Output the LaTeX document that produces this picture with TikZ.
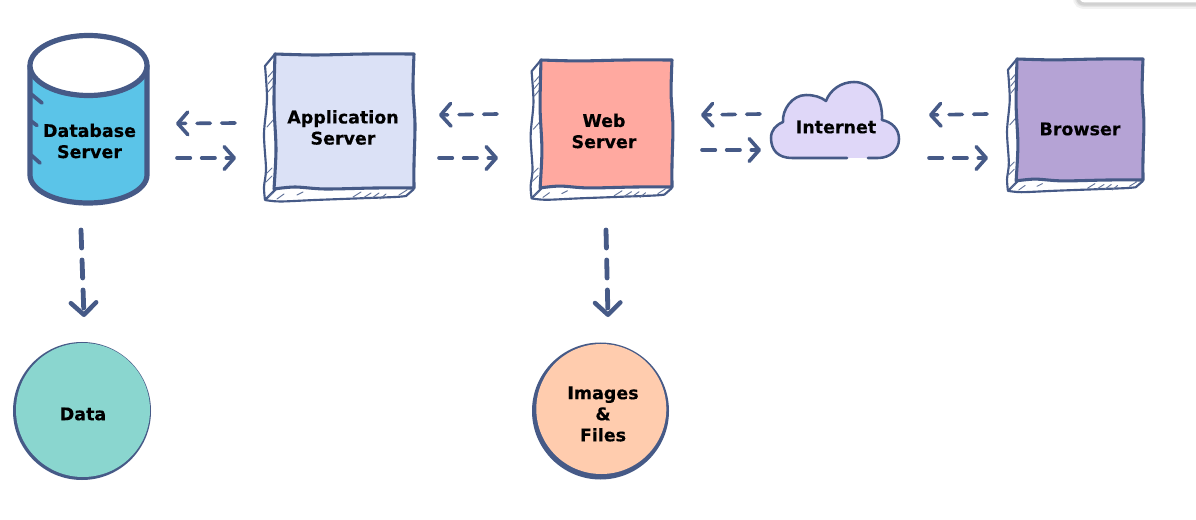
\documentclass[tikz,border=0pt]{standalone}
\usepackage{fontspec}
\setmainfont[BoldFeatures={FakeBold=0.25}]{DejaVu Sans}
\usetikzlibrary{arrows.meta}
\definecolor{ink}{HTML}{465A87}
\definecolor{dbfill}{HTML}{5BC4E8}
\definecolor{appfill}{HTML}{DBE1F6}
\definecolor{webfill}{HTML}{FFA9A0}
\definecolor{netfill}{HTML}{DFD7F8}
\definecolor{brfill}{HTML}{B5A3D5}
\definecolor{datafill}{HTML}{8AD6CF}
\definecolor{imgfill}{HTML}{FFCCAE}
\tikzset{
  x=0.75pt,y=-0.75pt,
  label text/.style={font=\bfseries\fontsize{13.1}{15.8}\selectfont,align=center,text=black,inner sep=0pt},
  flow/.style={draw=ink,line width=2.7pt,line cap=round,dash pattern=on 10pt off 8.5pt,
    -{Straight Barb[length=7.5pt,width=17pt,round,line width=2.7pt]}},
  flowdown/.style={draw=ink,line width=3.6pt,line cap=round,dash pattern=on 13.5pt off 9pt,
    -{Straight Barb[length=9pt,width=19pt,round,line width=3.4pt]}},
  edge line/.style={draw=ink,line width=2.3pt,line join=round},
  thin edge/.style={draw=ink,line width=1.6pt,line join=round},
  hatch/.style={draw=ink!85,line width=0.7pt,line cap=round},
}
\newcommand{\sketchbox}[6]{%
 \begin{scope}[shift={(#1,#2)},xscale=#3/139,yscale=#4/134]
  \path[fill=white] (0,0) -- (-10,12) -- (-10,145) -- (135,143) -- (139,134) -- cycle;
  \draw[thin edge] plot[smooth,tension=.5] coordinates {(0,0) (-5,6) (-10,12)}
    -- plot[smooth,tension=.5] coordinates {(-10,12) (-8,45) (-11,80) (-9,115) (-11,133) (-10,146)}
    -- plot[smooth,tension=.5] coordinates {(-10,146) (5,147.5) (40,146) (80,144.5) (120,143) (131,142)}
    -- (139,135);
  \draw[thin edge] (-10,146) -- (1,135);
  \foreach \a/\b/\c/\d in {-7/23/-1/16, -7/30/-2/24, -7/38/-2/32, -8/73/-1/65, -9/120/-3/114, -9/128/-3/122,
      -7/143/-2/139, 2/145/9/140, 22/141/28/138, 78/143/86/138, 88/144/96/139, 97/144/104/139, 105/145/111/140, 124/141/132/136}
     {\draw[hatch] (\a,\b) -- (\c,\d);}
  \path[fill=#5] plot[smooth,tension=.5] coordinates {(0,0) (40,1) (90,0) (139,0)}
    -- plot[smooth,tension=.5] coordinates {(139,0) (138,35) (140,70) (139,110) (139,134)}
    -- plot[smooth,tension=.5] coordinates {(139,134) (100,134) (50,135) (20,133) (-1,135)}
    -- plot[smooth,tension=.5] coordinates {(-1,135) (1,95) (-1,50) (0,0)} -- cycle;
  \draw[edge line] plot[smooth,tension=.5] coordinates {(0,0) (40,1) (90,0) (139,0)}
    -- plot[smooth,tension=.5] coordinates {(139,0) (138,35) (140,70) (139,110) (139,134)}
    -- plot[smooth,tension=.5] coordinates {(139,134) (100,134) (50,135) (20,133) (-1,135)}
    -- plot[smooth,tension=.5] coordinates {(-1,135) (1,95) (-1,50) (0,0)} -- cycle;
 \end{scope}}
\begin{document}
\begin{tikzpicture}
\useasboundingbox (0,0) rectangle (1196,520);
\fill[white] (0,0) rectangle (1196,520);
% window corner at top right
\foreach \o/\w in {0.05/9,0.06/6,0.08/4}{\draw[black,opacity=\o,line width=\w pt] (1079,-3) .. controls (1079,2) and (1081,3) .. (1086,3) -- (1200,3);}
\draw[black!18,line width=0.8pt] (1078,-3) .. controls (1078,1) and (1080,3) .. (1085,3) -- (1200,3);
\fill[white] (1079.5,-3) .. controls (1079.5,0) and (1081,2.4) .. (1085,2.4) -- (1200,2.4) -- (1200,-3) -- cycle;

% database cylinder
\path[fill=dbfill] (29,66) -- (29,175) .. controls (29,190) and (55,203) .. (88,203) .. controls (122,203) and (147,190) .. (147,175) -- (147,66) -- cycle;
\draw[draw=ink,line width=3.9pt,line cap=round] (30,66) -- (30,175) .. controls (30,190) and (55,203) .. (88,203) .. controls (122,203) and (147,190) .. (147,175) -- (147,66);
\draw[fill=white,draw=ink,line width=3.9pt] (88.5,65.5) ellipse [x radius=58.5,y radius=30];
\draw[draw=ink,line width=2.8pt,line cap=round] (31,94) -- (42,103);
\draw[draw=ink,line width=2.8pt,line cap=round] (31,121) -- (37,125.5);
\draw[draw=ink,line width=2.8pt,line cap=round] (31,155) -- (40,163);
\node[label text] (db) at (89.5,141) {Database\\Server};

% sketched boxes
\sketchbox{275}{54}{139}{134}{appfill}{}
\sketchbox{541}{60}{131}{127}{webfill}{}
\sketchbox{1017}{59}{126}{121}{brfill}{}
\node[label text] (app) at (343,127.5) {Application\\Server};
\node[label text] (web) at (604,131) {Web\\Server};
\node[label text] (br) at (1080,129) {Browser};

% cloud
\path[fill=netfill]
 (792,158) .. controls (778,158) and (771,150) .. (771,138)
 .. controls (771,130) and (776,125) .. (783,122)
 .. controls (782,110) and (792,95) .. (806,95)
 .. controls (814,95) and (821,97) .. (826,101)
 .. controls (830,90) and (841,82) .. (854,82)
 .. controls (870,82) and (883,96) .. (882,120)
 .. controls (892,122) and (899,129) .. (899,139)
 .. controls (899,150) and (890,158) .. (878,158) -- cycle;
\draw[draw=ink,line width=1.9pt,line join=round,line cap=round]
 (847,158) -- (792,158) .. controls (778,158) and (771,150) .. (771,138)
 .. controls (771,130) and (776,125) .. (783,122)
 .. controls (782,110) and (792,95) .. (806,95)
 .. controls (814,95) and (821,97) .. (826,101)
 .. controls (830,90) and (841,82) .. (854,82)
 .. controls (870,82) and (883,96) .. (882,120)
 .. controls (892,122) and (899,129) .. (899,139)
 .. controls (899,150) and (890,158) .. (878,158) -- (868,158);
\node[label text] (net) at (836,127) {Internet};

% circles
\fill[ink] (82,411) circle [radius=69];
\fill[datafill] (83,410) circle [radius=67];
\node[label text] (data) at (83,414) {Data};
\fill[ink] (600.5,411) circle [radius=68.5];
\fill[imgfill] (601.3,409) circle [radius=65];
\node[label text] (img) at (603,414) {Images\\\&\\Files};

% connector ends
\coordinate (a1) at (235,123); \coordinate (a2) at (176,123.5);
\coordinate (b1) at (177,158); \coordinate (b2) at (236,158);
\coordinate (c1) at (497,114); \coordinate (c2) at (439,115);
\coordinate (d1) at (439,158); \coordinate (d2) at (498,158);
\coordinate (e1) at (760,114); \coordinate (e2) at (701,115);
\coordinate (f1) at (702,150); \coordinate (f2) at (761,150);
\coordinate (g1) at (987,114); \coordinate (g2) at (929,115);
\coordinate (h1) at (929,158); \coordinate (h2) at (988,158);
\coordinate (i1) at (81,230); \coordinate (i2) at (84,317);
\coordinate (j1) at (606,230); \coordinate (j2) at (608,317);
\foreach \s/\t in {a1/a2,b1/b2,c1/c2,d1/d2,e1/e2,f1/f2,g1/g2,h1/h2}{\draw[flow] (\s) -- (\t);}
\draw[flowdown] (i1) -- (i2);
\draw[flowdown] (j1) -- (j2);
\end{tikzpicture}
\end{document}
